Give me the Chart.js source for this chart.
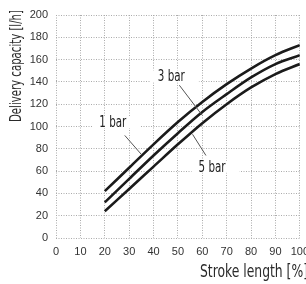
<!DOCTYPE html>
<html>
<head>
<meta charset="utf-8">
<script src="https://cdn.jsdelivr.net/npm/chart.js@4.4.1/dist/chart.umd.min.js"></script>
<style>
  html, body { margin: 0; padding: 0; background: #fff; overflow: hidden; }
  #wrap { position: relative; width: 316px; height: 284px; }
</style>
</head>
<body>
<div id="wrap"><canvas id="chart"></canvas></div>
<script>
'use strict';

// ── Data ─────────────────────────────────────────────
const strokeLength = [20, 30, 40, 50, 60, 70, 80, 90, 100];   // %
const bar1 = [42, 63, 84, 104, 122, 138, 152, 164, 173];      // l/h at 1 bar
const bar3 = [32, 53, 74, 94, 113, 129, 144, 156, 164];       // l/h at 3 bar
const bar5 = [24, 44, 64, 84, 103, 120, 135, 147, 156];       // l/h at 5 bar
const seriesNames = ['1 bar', '3 bar', '5 bar'];

const xTitle = 'Stroke length [%]';
const yTitle = 'Delivery capacity [l/h]';

// callout text placed in data units, with a leader to the curve
const callouts = [
  { text: '1 bar', at: [23.3, 104], from: [28.2, 92],  to: [35.0, 75] },
  { text: '3 bar', at: [47.3, 145], from: [50.6, 137], to: [60.0, 110] },
  { text: '5 bar', at: [64.0, 64],  from: [56.0, 93],  to: [61.5, 74] },
];

// the reference uses a condensed face; squeeze the installed one to match
const NARROW = "'Liberation Sans Narrow', 'DejaVu Sans Condensed', 'Liberation Sans', sans-serif";
const REGULAR = "'Liberation Sans', Arial, sans-serif";

const toPoints = ys => strokeLength.map((x, i) => ({ x, y: ys[i] }));

// draw text squeezed horizontally to a given width
function squeezeText(ctx, text, x, y, width) {
  const w = ctx.measureText(text).width;
  const k = Math.min(1, width / w);
  ctx.save();
  ctx.translate(x, y);
  ctx.scale(k, 1);
  ctx.fillText(text, 0, 0);
  ctx.restore();
  return w * k;
}

// ── Callouts + axis titles ───────────────────────────
const annotate = {
  id: 'annotate',
  afterDatasetsDraw(chart) {
    const { ctx, scales: { x, y } } = chart;
    ctx.save();
    ctx.font = '15px ' + NARROW;
    ctx.textBaseline = 'middle';
    ctx.textAlign = 'center';
    callouts.forEach(c => {
      const px = x.getPixelForValue(c.at[0]);
      const py = y.getPixelForValue(c.at[1]);
      const w = 27;
      // white gap in the grid behind the label
      ctx.fillStyle = '#fff';
      ctx.fillRect(px - w / 2 - 7, py - 6, w + 21, 12);
      ctx.fillStyle = '#222';
      squeezeText(ctx, c.text, px, py + 1, w);
      // leader line
      ctx.strokeStyle = '#555';
      ctx.lineWidth = 1;
      ctx.beginPath();
      ctx.moveTo(x.getPixelForValue(c.from[0]), y.getPixelForValue(c.from[1]));
      ctx.lineTo(x.getPixelForValue(c.to[0]), y.getPixelForValue(c.to[1]));
      ctx.stroke();
    });

    // axis titles
    ctx.fillStyle = '#2a2a2a';
    ctx.font = '18px ' + NARROW;
    ctx.textAlign = 'left';
    squeezeText(ctx, xTitle, 200, 272, 108);

    ctx.font = '16px ' + NARROW;
    ctx.translate(17, 10);
    ctx.rotate(-Math.PI / 2);
    ctx.textAlign = 'right';
    squeezeText(ctx, yTitle, 0, 0, 112);
    ctx.restore();
  }
};

const lineStyle = {
  borderColor: '#1b1b1b',
  borderWidth: 2.6,
  pointRadius: 0,
  fill: false,
  cubicInterpolationMode: 'monotone',
};

new Chart(document.getElementById('chart'), {
  type: 'line',
  data: {
    datasets: [
      { label: seriesNames[0], data: toPoints(bar1), ...lineStyle },
      { label: seriesNames[1], data: toPoints(bar3), ...lineStyle },
      { label: seriesNames[2], data: toPoints(bar5), ...lineStyle },
    ],
  },
  options: {
    responsive: true,
    maintainAspectRatio: false,
    animation: false,
    layout: { padding: { left: 0, right: 15, top: 15, bottom: 0 } },
    plugins: { legend: { display: false }, tooltip: { enabled: false } },
    scales: {
      x: {
        type: 'linear',
        min: 0, max: 100,
        ticks: { stepSize: 10, padding: 7, color: '#333', font: { family: REGULAR, size: 11 } },
        grid: { color: '#ababab', lineWidth: 1, drawTicks: false },
        border: { display: false, dash: [1, 1.5] },
        afterFit: s => { s.height = 46; },
      },
      y: {
        min: 0, max: 200,
        ticks: { stepSize: 20, padding: 8, color: '#333', font: { family: REGULAR, size: 11 } },
        grid: { color: '#ababab', lineWidth: 1, drawTicks: false },
        border: { display: false, dash: [1, 1.5] },
        afterFit: s => { s.width = 56; },
      },
    },
  },
  plugins: [annotate],
});
</script>
</body>
</html>
